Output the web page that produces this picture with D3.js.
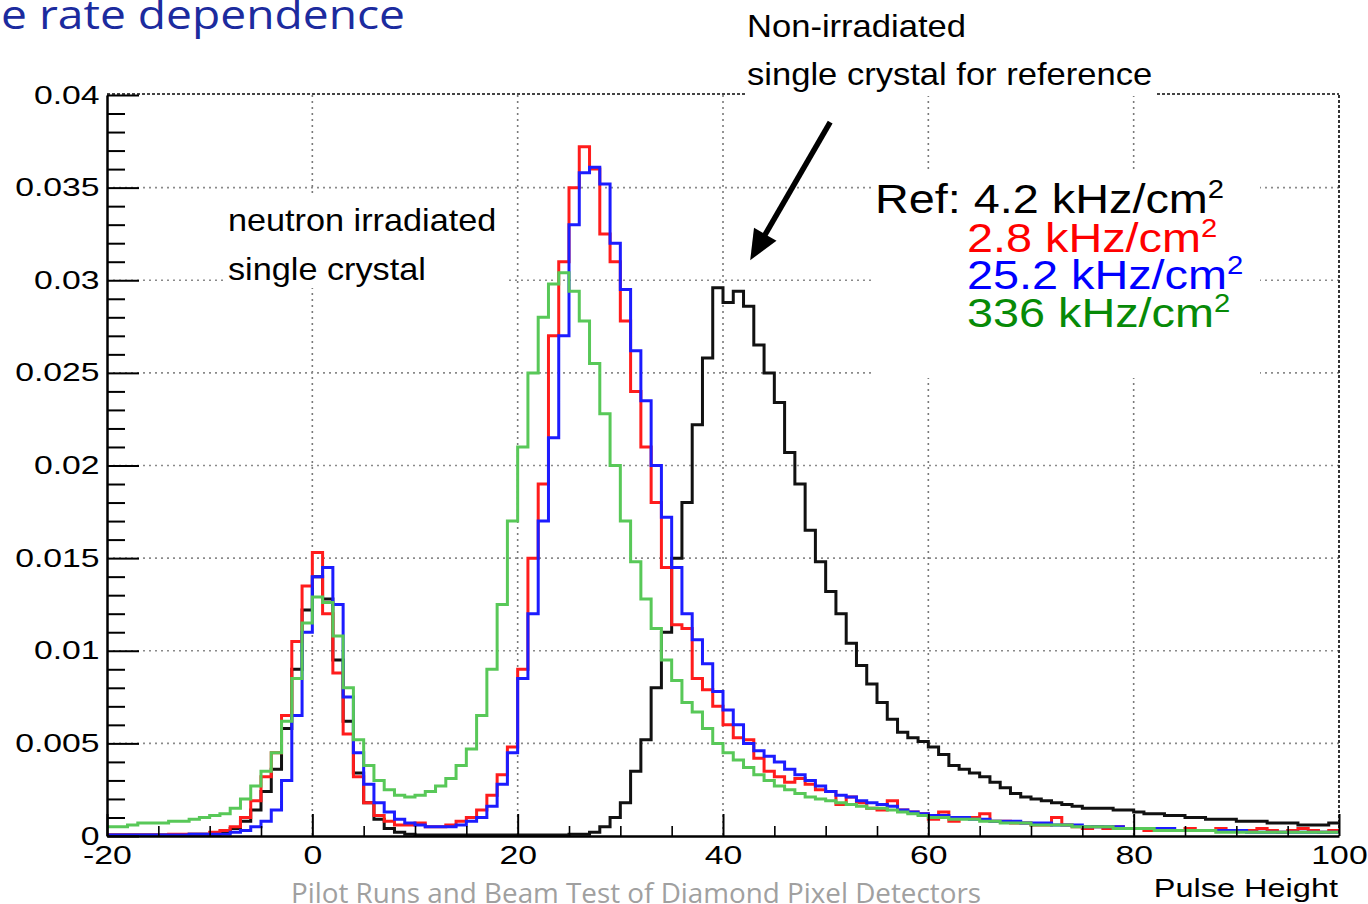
<!DOCTYPE html>
<html>
<head>
<meta charset="utf-8">
<script src="https://cdn.jsdelivr.net/npm/d3@7"></script>
<style>
  body { margin: 0; background: #fff; }
  svg { display: block; }
</style>
</head>
<body>
<svg id="chart" width="1368" height="904"></svg>
<script>
// ---------------- data ----------------
const binStart = -20;
const binWidth = 1;
const xTicks = [-20, 0, 20, 40, 60, 80, 100];
const xTickLabels = ["-20", "0", "20", "40", "60", "80", "100"];
const yTicks = [0, 0.005, 0.01, 0.015, 0.02, 0.025, 0.03, 0.035, 0.04];
const yTickLabels = ["0", "0.005", "0.01", "0.015", "0.02", "0.025", "0.03", "0.035", "0.04"];
const xTitle = "Pulse Height";
const seriesLabels = ["Ref: 4.2 kHz/cm", "2.8 kHz/cm", "25.2 kHz/cm", "336 kHz/cm"];

// non-irradiated reference, 4.2 kHz/cm2 (bins of width 1 starting at -20)
const refBlack = [
  0.00005,0.00005,0.00005,0.00005,0.00005,0.00005,0.00005,0.00005,0.0001,0.0001,
  0.0001,0.0002,0.0004,0.0008,0.0014,0.0024,0.0036,0.0058,0.0090,0.0122,
  0.0140,0.0128,0.0095,0.0062,0.0034,0.0018,0.0009,0.0004,0.0002,0.0001,
  0.00005,0.00005,0.00005,0.00005,0.00005,0.00005,0.00005,0.00005,0.00005,0.00005,
  0.00005,0.00005,0.00005,0.00005,0.00005,0.0001,0.0001,0.0002,0.0005,0.0010,
  0.0018,0.0035,0.0052,0.0080,0.0110,0.0150,0.0180,0.0222,0.0258,0.0296,
  0.0288,0.0294,0.0286,0.0265,0.0250,0.0234,0.0207,0.0190,0.0165,0.0148,
  0.0132,0.0120,0.0104,0.0092,0.0082,0.0072,0.0063,0.0056,0.0053,0.0051,
  0.0048,0.0044,0.0038,0.0036,0.0034,0.0032,0.0029,0.0026,0.0023,0.0021,
  0.0020,0.0019,0.0018,0.0017,0.0016,0.0015,0.0015,0.0015,0.0014,0.0014,
  0.0013,0.0012,0.0012,0.0011,0.0011,0.0010,0.0010,0.0009,0.0009,0.0009,
  0.0008,0.0008,0.0008,0.0007,0.0007,0.0007,0.0006,0.0006,0.0006,0.0007
];
// neutron irradiated, 2.8 kHz/cm2
const red28 = [
  0.00005,0.00005,0.00005,0.00005,0.00005,0.00005,0.0001,0.0001,0.0001,0.0001,
  0.0002,0.0003,0.0005,0.0010,0.0019,0.0032,0.0045,0.0065,0.0105,0.0135,
  0.0153,0.0120,0.0088,0.0055,0.0032,0.0018,0.0011,0.0008,0.0006,0.0006,
  0.0007,0.0005,0.0005,0.0006,0.0008,0.0010,0.0014,0.0022,0.0033,0.0048,
  0.0090,0.0150,0.0190,0.0270,0.0310,0.0350,0.0372,0.0360,0.0325,0.0310,
  0.0278,0.0240,0.0210,0.0180,0.0145,0.0114,0.0112,0.0085,0.0079,0.0070,
  0.0060,0.0053,0.0052,0.0042,0.0035,0.0032,0.0029,0.0031,0.0028,0.0025,
  0.0024,0.0017,0.0021,0.0018,0.0015,0.0014,0.0019,0.0014,0.0013,0.0012,
  0.0009,0.0013,0.0008,0.0010,0.0010,0.0012,0.0008,0.0008,0.0007,0.0007,
  0.0006,0.0006,0.0010,0.0006,0.0005,0.0004,0.0005,0.0004,0.0005,0.0004,
  0.0004,0.0003,0.0004,0.0003,0.0003,0.0004,0.0003,0.0003,0.0004,0.0003,
  0.0003,0.0003,0.0004,0.0003,0.0002,0.0003,0.0004,0.0003,0.0002,0.0003
];
// neutron irradiated, 25.2 kHz/cm2
const blue252 = [
  0.00005,0.00005,0.00005,0.00005,0.00005,0.00005,0.00005,0.00005,0.0001,0.0001,
  0.0001,0.0001,0.0002,0.0003,0.0005,0.0008,0.0014,0.0030,0.0065,0.0110,
  0.0140,0.0145,0.0125,0.0075,0.0045,0.0028,0.0018,0.0013,0.0009,0.0007,
  0.0006,0.0005,0.0005,0.0005,0.0006,0.0008,0.0010,0.0016,0.0028,0.0045,
  0.0085,0.0120,0.0170,0.0215,0.0270,0.0330,0.0358,0.0361,0.0352,0.0320,
  0.0295,0.0262,0.0235,0.0200,0.0172,0.0145,0.0120,0.0106,0.0093,0.0078,
  0.0068,0.0060,0.0050,0.0046,0.0043,0.0040,0.0036,0.0033,0.0030,0.0027,
  0.0024,0.0022,0.0021,0.0019,0.0018,0.0017,0.0016,0.0014,0.0013,0.0012,
  0.0011,0.0011,0.0010,0.0010,0.0009,0.0009,0.0008,0.0008,0.0008,0.0007,
  0.0007,0.0007,0.0006,0.0006,0.0006,0.0005,0.0005,0.0005,0.0005,0.0004,
  0.0004,0.0004,0.0004,0.0004,0.0003,0.0003,0.0003,0.0003,0.0003,0.0003,
  0.0003,0.0002,0.0002,0.0002,0.0002,0.0002,0.0002,0.0002,0.0002,0.0002
];
// neutron irradiated, 336 kHz/cm2
const green336 = [
  0.0005,0.0005,0.0006,0.0007,0.0007,0.0007,0.0008,0.0008,0.0009,0.0010,
  0.0011,0.0012,0.0015,0.0020,0.0027,0.0035,0.0045,0.0062,0.0085,0.0115,
  0.0129,0.0126,0.0108,0.0080,0.0052,0.0038,0.0030,0.0025,0.0022,0.0021,
  0.0022,0.0024,0.0027,0.0031,0.0038,0.0047,0.0065,0.0090,0.0125,0.0170,
  0.0210,0.0250,0.0280,0.0298,0.0304,0.0294,0.0278,0.0255,0.0228,0.0200,
  0.0170,0.0148,0.0128,0.0112,0.0095,0.0084,0.0072,0.0067,0.0058,0.0050,
  0.0045,0.0041,0.0037,0.0033,0.0030,0.0027,0.0025,0.0023,0.0021,0.0020,
  0.0019,0.0018,0.0017,0.0016,0.0015,0.0015,0.0014,0.0013,0.0012,0.0011,
  0.0010,0.0010,0.0009,0.0009,0.0009,0.0008,0.0008,0.0007,0.0007,0.0007,
  0.0006,0.0006,0.0006,0.0006,0.0005,0.0005,0.0005,0.0005,0.0004,0.0004,
  0.0004,0.0004,0.0003,0.0003,0.0003,0.0003,0.0003,0.0003,0.0002,0.0002,
  0.0002,0.0002,0.0002,0.0002,0.0002,0.0002,0.0002,0.0002,0.0002,0.0002
];

// ---------------- layout ----------------
const svg = d3.select("#chart");
const m = { left: 107, right: 1339, top: 95, bottom: 836 };
const x = d3.scaleLinear().domain([-20, 100]).range([m.left, m.right]);
const y = d3.scaleLinear().domain([0, 0.04]).range([m.bottom, m.top]);
const helv = "'Liberation Sans', Arial, Helvetica, sans-serif";

// grid
const grid = svg.append("g");
grid.selectAll("line.gx").data(xTicks.slice(1, -1)).join("line")
  .attr("x1", d => x(d)).attr("x2", d => x(d))
  .attr("y1", m.top).attr("y2", m.bottom)
  .attr("stroke", "#7a7a7a").attr("stroke-width", 1.6).attr("stroke-dasharray", "2,4");
grid.selectAll("line.gy").data(yTicks.slice(1, -1)).join("line")
  .attr("y1", d => y(d)).attr("y2", d => y(d))
  .attr("x1", m.left).attr("x2", m.right)
  .attr("stroke", "#8a8a8a").attr("stroke-width", 1.6).attr("stroke-dasharray", "2,4");

// white boxes behind the in-plot annotations
svg.append("rect").attr("x", 225).attr("y", 197).attr("width", 280).attr("height", 91).attr("fill", "#fff");
svg.append("rect").attr("x", 872).attr("y", 173).attr("width", 388).attr("height", 205).attr("fill", "#fff");

// histograms
svg.append("clipPath").attr("id", "plotClip").append("rect")
  .attr("x", m.left).attr("y", m.top - 2).attr("width", m.right - m.left).attr("height", m.bottom - m.top + 2);

const series = [
  { values: refBlack, color: "#111111" },
  { values: red28, color: "#ff1c1c" },
  { values: blue252, color: "#1c1cff" },
  { values: green336, color: "#58c858" }
];
const stepLine = d3.line()
  .x(d => x(d[0])).y(d => y(d[1]))
  .curve(d3.curveStepAfter);
const hg = svg.append("g").attr("clip-path", "url(#plotClip)");
series.forEach(s => {
  const pts = s.values.map((v, i) => [binStart + i * binWidth, v]);
  pts.push([binStart + s.values.length * binWidth, s.values[s.values.length - 1]]);
  hg.append("path").datum(pts)
    .attr("d", stepLine)
    .attr("fill", "none")
    .attr("stroke", s.color)
    .attr("stroke-width", 3)
    .attr("stroke-linejoin", "miter");
});

// frame top/right (dotted dark)
svg.append("line").attr("x1", m.left).attr("x2", m.right).attr("y1", m.top - 1).attr("y2", m.top - 1)
  .attr("stroke", "#444").attr("stroke-width", 2).attr("stroke-dasharray", "3,2");
svg.append("line").attr("x1", m.right).attr("x2", m.right).attr("y1", m.top).attr("y2", m.bottom)
  .attr("stroke", "#333").attr("stroke-width", 2).attr("stroke-dasharray", "3,2");

// axes
const yMinor = d3.range(0, 0.0405, 0.001).filter(v => Math.abs(v / 0.005 - Math.round(v / 0.005)) > 1e-6);
const xMinor = d3.range(-20, 101, 5).filter(v => v % 20 !== 0);

const gyMinor = svg.append("g").attr("transform", `translate(${m.left},0)`)
  .call(d3.axisLeft(y).tickValues(yMinor).tickFormat("").tickSizeInner(-18).tickSizeOuter(0));
gyMinor.select(".domain").remove();
gyMinor.selectAll(".tick line").attr("stroke", "#000").attr("stroke-width", 2);

const gxMinor = svg.append("g").attr("transform", `translate(0,${m.bottom})`)
  .call(d3.axisBottom(x).tickValues(xMinor).tickFormat("").tickSizeInner(-10).tickSizeOuter(0));
gxMinor.select(".domain").remove();
gxMinor.selectAll(".tick line").attr("stroke", "#000").attr("stroke-width", 1.6);

const gy = svg.append("g").attr("transform", `translate(${m.left},0)`)
  .call(d3.axisLeft(y).tickValues(yTicks).tickFormat((d, i) => yTickLabels[i])
    .tickSizeInner(-32).tickSizeOuter(0).tickPadding(5.5));
gy.select(".domain").attr("stroke", "#000").attr("stroke-width", 2.5);
gy.selectAll(".tick line").attr("stroke", "#000").attr("stroke-width", 2);
gy.selectAll(".tick text")
  .attr("font-family", helv).attr("font-size", 25).attr("fill", "#000")
  .attr("transform", "scale(1.35,1)");

const gx = svg.append("g").attr("transform", `translate(0,${m.bottom})`)
  .call(d3.axisBottom(x).tickValues(xTicks).tickFormat((d, i) => xTickLabels[i])
    .tickSizeInner(-22).tickSizeOuter(0).tickPadding(10));
gx.select(".domain").attr("stroke", "#000").attr("stroke-width", 2.5);
gx.selectAll(".tick line").attr("stroke", "#000").attr("stroke-width", 2);
gx.selectAll(".tick text")
  .attr("font-family", helv).attr("font-size", 25).attr("fill", "#000")
  .attr("transform", "scale(1.35,1)");

// x axis title
svg.append("text")
  .attr("transform", `translate(${m.right - 1},897) scale(1.3,1)`)
  .attr("text-anchor", "end")
  .attr("font-family", helv).attr("font-size", 25).attr("fill", "#000")
  .text(xTitle);

// helper for horizontally stretched text
function stext(px, py, str, size, sx, color, anchor) {
  return svg.append("text")
    .attr("transform", `translate(${px},${py}) scale(${sx},1)`)
    .attr("text-anchor", anchor || "start")
    .attr("font-family", helv).attr("font-size", size).attr("fill", color || "#000")
    .text(str);
}

// top annotation (white background covers frame)
svg.append("rect").attr("x", 745).attr("y", 0).attr("width", 412).attr("height", 96).attr("fill", "#fff");
stext(747, 37, "Non-irradiated", 32, 1.08);
stext(747, 85, "single crystal for reference", 32, 1.08);

// neutron annotation
stext(228, 231, "neutron irradiated", 32, 1.07);
stext(228, 280, "single crystal", 32, 1.07);

// legend
const legendRows = [
  { label: seriesLabels[0], color: "#000000", px: 875, py: 213 },
  { label: seriesLabels[1], color: "#ff0000", px: 967, py: 252 },
  { label: seriesLabels[2], color: "#0000ff", px: 967, py: 289 },
  { label: seriesLabels[3], color: "#078a07", py: 327, px: 967 }
];
legendRows.forEach(r => {
  const t = stext(r.px, r.py, "", 40, 1.17, r.color);
  t.append("tspan").text(r.label);
  t.append("tspan").attr("font-size", 25).attr("dy", -15).text("2");
});

// arrow (in data coordinates)
const a0 = [x(50.44), y(0.03853)];
const a1 = [x(42.65), y(0.03108)];
const dx = a1[0] - a0[0], dy = a1[1] - a0[1];
const len = Math.hypot(dx, dy);
const ux = dx / len, uy = dy / len;
const headL = 30, headW = 13;
const base = [a1[0] - ux * headL, a1[1] - uy * headL];
svg.append("line")
  .attr("x1", a0[0]).attr("y1", a0[1])
  .attr("x2", base[0] + ux * 2).attr("y2", base[1] + uy * 2)
  .attr("stroke", "#000").attr("stroke-width", 5.5);
svg.append("polygon")
  .attr("points", [
    a1,
    [base[0] - uy * headW, base[1] + ux * headW],
    [base[0] + uy * headW, base[1] - ux * headW]
  ].map(p => p.join(",")).join(" "))
  .attr("fill", "#000");

// slide title (cut at the left edge) and footer
svg.append("text")
  .attr("x", 1).attr("y", 29)
  .attr("font-family", "'Open Sans', Lato, sans-serif").attr("font-size", 40)
  .attr("fill", "#1c2b9e")
  .attr("textLength", 404).attr("lengthAdjust", "spacingAndGlyphs")
  .text("e rate dependence");
svg.append("text")
  .attr("x", 291).attr("y", 903)
  .attr("font-family", "'Open Sans', Lato, sans-serif").attr("font-size", 28)
  .attr("fill", "#a0a0a0")
  .attr("textLength", 690).attr("lengthAdjust", "spacingAndGlyphs")
  .text("Pilot Runs and Beam Test of Diamond Pixel Detectors");
</script>
</body>
</html>
